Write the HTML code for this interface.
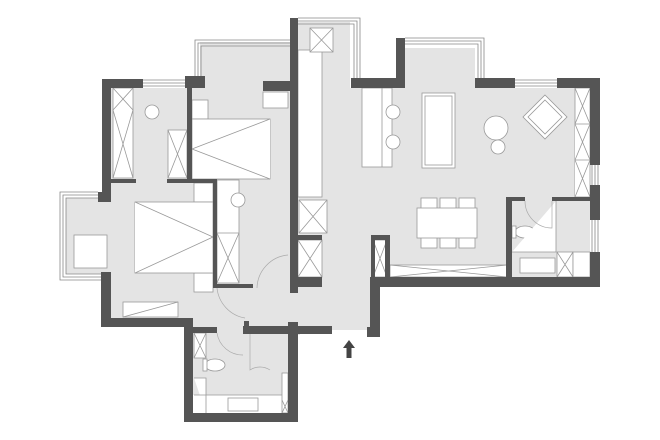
<!DOCTYPE html>
<html><head><style>html,body{margin:0;padding:0;background:#fff}svg{display:block}</style></head>
<body>
<svg width="660" height="440" viewBox="0 0 660 440" xmlns="http://www.w3.org/2000/svg">
<!-- floors -->
<g fill="#e4e4e4">
<polygon points="111,88 187,88 187,76 200,76 200,42 290,42 290,318 111,318"/>
<rect x="66" y="198" width="50" height="76"/>
<polygon points="298,22 350,22 350,88 405,88 405,48 475,48 475,88 590,88 590,277 380,277 380,330 298,330"/>
<rect x="193" y="316" width="95" height="97"/>
<rect x="240" y="285" width="60" height="50"/>
</g>
<rect x="193" y="395" width="95" height="18" fill="#fff"/>
<!-- windows -->
<g fill="none" stroke="#888" stroke-width="0.8">
<path d="M143,80 H185 M143,83 H185 M143,86 H185"/>
<path d="M195,78 V40 H290 M198,78 V43 H290 M201,78 V46 H290"/>
<path d="M98,192 H60 V280 H101 M98,195 H63 V277 H101 M98,198 H66 V274 H101"/>
<path d="M298,18 H360 V78 M298,21 H357 V78 M298,24 H354 V78"/>
<path d="M405,38 H484 V78 M405,41 H481 V78 M405,44 H478 V78"/>
<path d="M515,80 H557 M515,83 H557 M515,86 H557"/>
<path d="M592,165 V185 M595,165 V185 M598,165 V185 M592,220 V252 M595,220 V252 M598,220 V252"/>
</g>
<!-- furniture -->
<g fill="#fff" stroke="#999" stroke-width="0.8">
<rect x="113" y="88" width="20" height="90"/><path d="M113,88 L133,110 M133,88 L113,110 M113,110 L133,178 M133,110 L113,178"/>
<circle cx="152" cy="112" r="7"/>
<rect x="168" y="130" width="19" height="48"/><path d="M168,130 L187,178 M187,130 L168,178"/>
<rect x="192" y="100" width="16" height="19"/>
<rect x="192" y="119" width="78" height="60"/><path d="M270,119 L192,149 L270,179"/>
<rect x="194" y="183" width="19" height="19"/><rect x="194" y="273" width="19" height="19"/>
<rect x="135" y="202" width="78" height="71"/><path d="M135,202 L213,237 L135,273"/>
<rect x="123" y="302" width="55" height="15"/><path d="M123,317 L178,302"/>
<rect x="74" y="235" width="33" height="33"/>
<rect x="217" y="180" width="22" height="103"/><path d="M217,233 H239 M217,233 L239,283 M239,233 L217,283"/>
<circle cx="238" cy="200" r="7"/>
<rect x="263" y="92" width="25" height="16"/>
<rect x="298" y="50" width="24" height="147"/>
<rect x="310" y="28" width="23" height="24"/><path d="M310,28 L333,52 M333,28 L310,52"/>
<rect x="299" y="200" width="28" height="33"/><path d="M299,200 L327,233 M327,200 L299,233"/>
<rect x="298" y="240" width="24" height="37"/><path d="M298,240 L322,277 M322,240 L298,277"/>
<rect x="362" y="88" width="30" height="79"/><path d="M382,88 V167"/>
<circle cx="393" cy="112" r="7"/><circle cx="393" cy="142" r="7"/>
<rect x="422" y="93" width="33" height="75"/><rect x="425" y="96" width="27" height="69"/>
<circle cx="496" cy="128" r="12"/><circle cx="498" cy="147" r="7"/>
<polygon points="545,95 567,117 545,139 523,117"/><polygon points="545,100 562,117 545,134 528,117"/>
<rect x="575" y="88" width="15" height="109"/><path d="M575,88 L590,124 M590,88 L575,124 M575,124 H590 L575,160 M575,124 L590,160 M575,160 H590 L575,197 M575,160 L590,197"/>
<rect x="421" y="198" width="16" height="15"/><rect x="440" y="198" width="16" height="15"/><rect x="459" y="198" width="16" height="15"/>
<rect x="421" y="233" width="16" height="15"/><rect x="440" y="233" width="16" height="15"/><rect x="459" y="233" width="16" height="15"/>
<rect x="417" y="208" width="60" height="30"/>
<rect x="390" y="265" width="117" height="12"/><path d="M390,265 L507,277 M507,265 L390,277"/>
<rect x="373" y="240" width="14" height="37"/><path d="M373,240 L387,277 M387,240 L373,277"/>
<ellipse cx="525" cy="232" rx="10" ry="6"/><rect x="512" y="226" width="4" height="12"/>
<rect x="520" y="258" width="35" height="15"/>
<rect x="557" y="252" width="16" height="25"/><path d="M557,252 L573,277 M573,252 L557,277"/>
<rect x="573" y="252" width="17" height="25"/>
<path d="M556,201 V252 H512"/>
<ellipse cx="215" cy="365" rx="10" ry="6"/><rect x="203" y="359" width="4" height="12"/>
<rect x="194" y="333" width="12" height="25"/><path d="M194,333 L206,358 M206,333 L194,358"/>
<path d="M194,378 H206 V413 M194,395 H288"/><rect x="228" y="398" width="30" height="13"/>
<rect x="282" y="373" width="6" height="40"/><path d="M282,400 L288,413 M288,400 L282,413"/>
</g>
<!-- doors -->
<g fill="none" stroke="#aaa" stroke-width="0.7">
<path d="M288,255 A34,34 0 0 0 257,288"/><path d="M217,288 A34,34 0 0 0 245,318"/>
<path d="M217,333 A26,26 0 0 0 243,355"/><path d="M250,333 V370 A18,18 0 0 1 270,370"/>
<path d="M525,201 A27,27 0 0 0 552,228 V201"/>
</g>
<!-- walls -->
<g fill="#555">
<rect x="102" y="79" width="41" height="9"/><rect x="102" y="79" width="9" height="123"/><rect x="98" y="192" width="13" height="10"/>
<rect x="185" y="76" width="20" height="12"/>
<rect x="101" y="272" width="10" height="55"/><rect x="101" y="318" width="92" height="9"/>
<rect x="184" y="318" width="9" height="104"/><rect x="184" y="413" width="114" height="9"/>
<rect x="288" y="322" width="10" height="100"/><rect x="184" y="327" width="33" height="6"/><rect x="243" y="326" width="89" height="8"/>
<rect x="244" y="321" width="5" height="6"/>
<rect x="187" y="87" width="5" height="93"/><rect x="111" y="179" width="25" height="4"/><rect x="167" y="179" width="50" height="4"/>
<rect x="213" y="180" width="4" height="108"/><rect x="213" y="284" width="40" height="4"/>
<rect x="290" y="18" width="8" height="275"/><rect x="263" y="81" width="35" height="10"/>
<rect x="298" y="235" width="24" height="5"/><rect x="298" y="277" width="24" height="10"/>
<rect x="351" y="78" width="54" height="10"/><rect x="396" y="38" width="9" height="50"/>
<rect x="475" y="78" width="40" height="10"/><rect x="557" y="78" width="43" height="10"/>
<rect x="590" y="78" width="10" height="87"/><rect x="590" y="185" width="10" height="35"/><rect x="590" y="252" width="10" height="35"/>
<rect x="372" y="277" width="228" height="10"/><rect x="370" y="277" width="10" height="60"/><rect x="367" y="327" width="13" height="10"/>
<rect x="371" y="235" width="19" height="5"/><rect x="371" y="235" width="4" height="45"/><rect x="385" y="235" width="5" height="45"/>
<rect x="506" y="197" width="6" height="81"/><rect x="506" y="197" width="19" height="4"/><rect x="552" y="197" width="38" height="4"/>
</g>
<!-- entrance arrow -->
<path d="M349,340 L343,348 H346.5 V358 H351.5 V348 H355 Z" fill="#444"/>
</svg>
</body></html>
